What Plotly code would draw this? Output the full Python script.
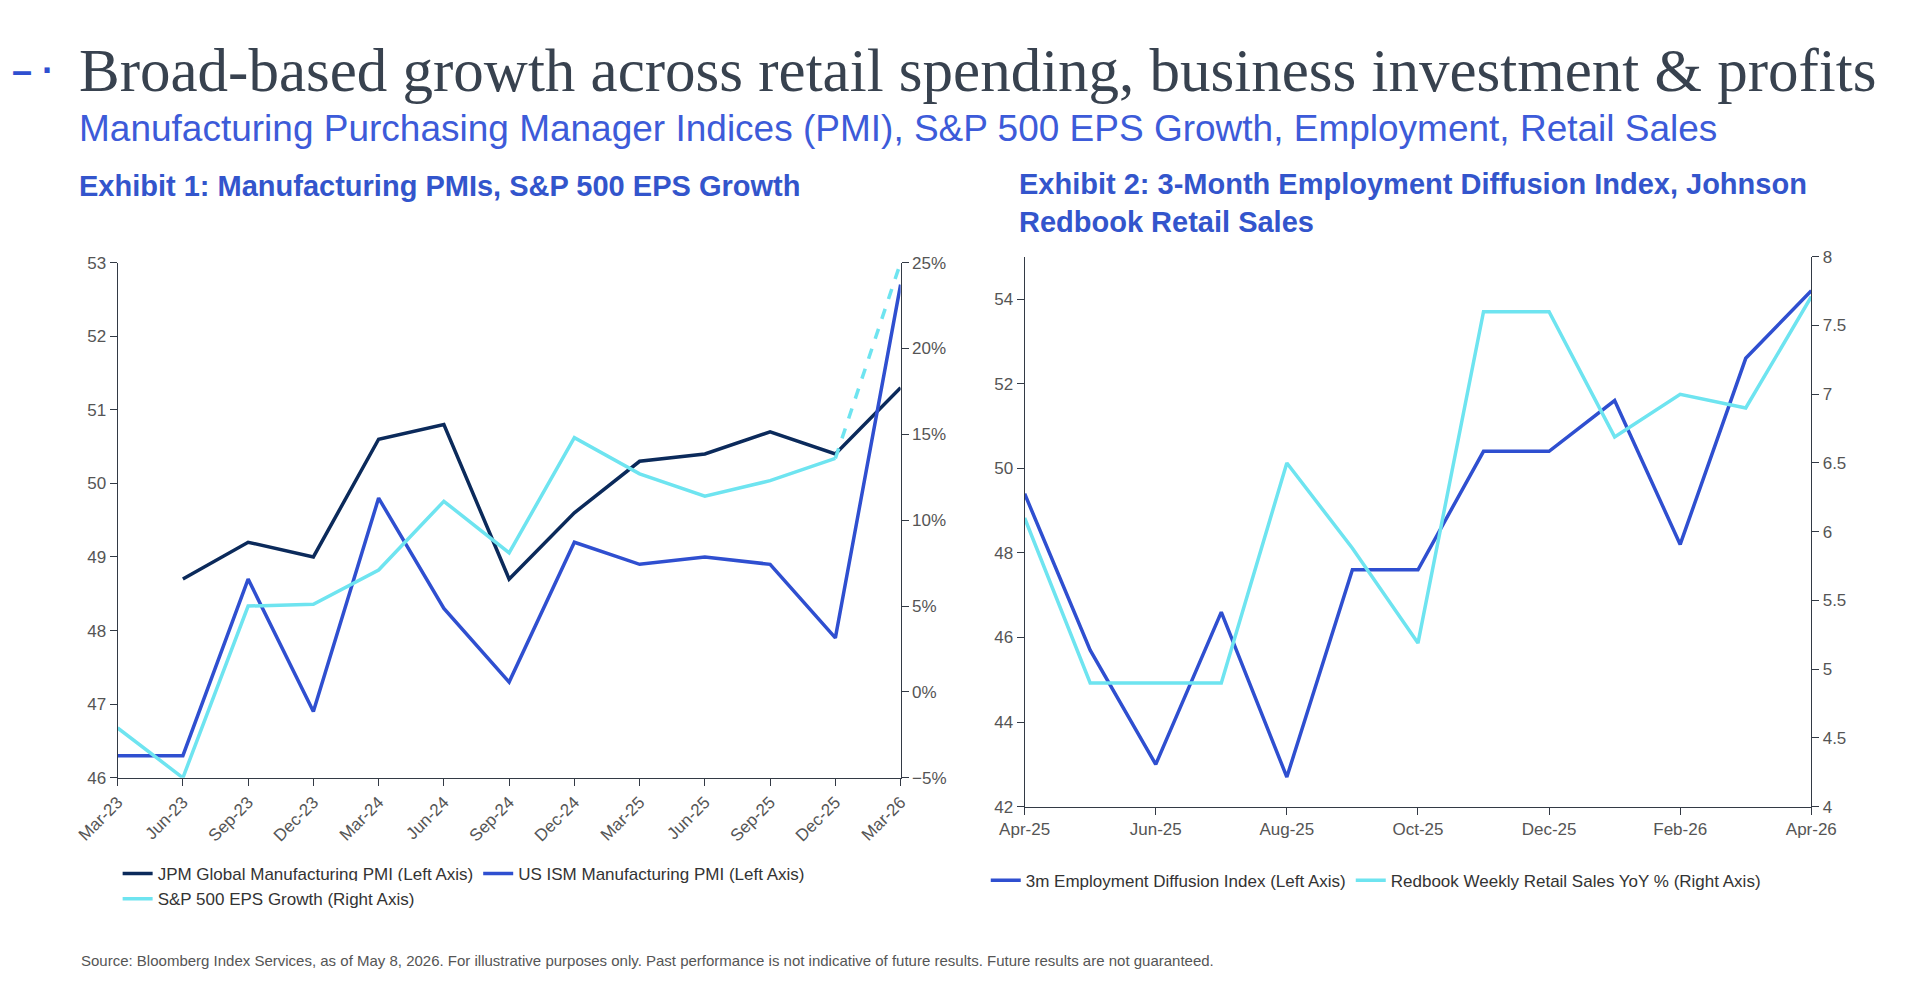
import plotly.graph_objects as go

# Exhibit 1 - quarterly
quarters = ['Mar-23', 'Jun-23', 'Sep-23', 'Dec-23', 'Mar-24', 'Jun-24', 'Sep-24',
            'Dec-24', 'Mar-25', 'Jun-25', 'Sep-25', 'Dec-25', 'Mar-26']
jpm_pmi = [None, 48.7, 49.2, 49.0, 50.6, 50.8, 48.7, 49.6, 50.3, 50.4, 50.7, 50.4, 51.3]
ism_pmi = [46.3, 46.3, 48.7, 46.9, 49.8, 48.3, 47.3, 49.2, 48.9, 49.0, 48.9, 47.9, 52.7]
eps_growth = [-2.1, -5.0, 5.0, 5.1, 7.1, 11.1, 8.1, 14.8, 12.7, 11.4, 12.3, 13.6, None]
eps_estimate = [None] * 11 + [13.6, 25.0]

# Exhibit 2 - monthly
months = ['Apr-25', 'May-25', 'Jun-25', 'Jul-25', 'Aug-25', 'Sep-25', 'Oct-25',
          'Nov-25', 'Dec-25', 'Jan-26', 'Feb-26', 'Mar-26', 'Apr-26']
employment = [49.4, 45.7, 43.0, 46.6, 42.7, 47.6, 47.6, 50.4, 50.4, 51.6, 48.2, 52.6, 54.2]
redbook = [6.1, 4.9, 4.9, 4.9, 6.5, 5.88, 5.19, 7.6, 7.6, 6.69, 7.0, 6.9, 7.71]

NAVY = '#0b2a5b'
BLUE = '#2f4fd0'
CYAN = '#6ee4f0'
GREY = '#555555'
LINE = 3.5
sans = 'Liberation Sans, Arial'
legend_font = dict(family=sans, size=17, color='#333')

fig = go.Figure()
fig.add_trace(go.Scatter(x=quarters, y=jpm_pmi, name='JPM Global Manufacturing PMI (Left Axis)',
                         mode='lines', line=dict(color=NAVY, width=LINE), legend='legend'))
fig.add_trace(go.Scatter(x=quarters, y=ism_pmi, name='US ISM Manufacturing PMI (Left Axis)',
                         mode='lines', line=dict(color=BLUE, width=LINE), legend='legend'))
fig.add_trace(go.Scatter(x=quarters, y=eps_growth, name='S&P 500 EPS Growth (Right Axis)',
                         mode='lines', line=dict(color=CYAN, width=LINE), yaxis='y2', legend='legend3'))
fig.add_trace(go.Scatter(x=quarters, y=eps_estimate, showlegend=False, mode='lines',
                         line=dict(color=CYAN, width=LINE, dash='dash'), yaxis='y2'))

fig.add_trace(go.Scatter(x=months, y=employment, name='3m Employment Diffusion Index (Left Axis)',
                         mode='lines', line=dict(color=BLUE, width=LINE),
                         xaxis='x2', yaxis='y3', legend='legend2'))
fig.add_trace(go.Scatter(x=months, y=redbook, name='Redbook Weekly Retail Sales YoY % (Right Axis)',
                         mode='lines', line=dict(color=CYAN, width=LINE),
                         xaxis='x2', yaxis='y4', legend='legend2'))

tickfont = dict(family=sans, size=17, color=GREY)
axis_common = dict(showgrid=False, zeroline=False, showline=True, linecolor='#333a45',
                   linewidth=1, ticks='outside', ticklen=7, tickcolor='#333a45', tickfont=tickfont)

fig.update_layout(
    width=1920, height=982,
    paper_bgcolor='white', plot_bgcolor='white',
    margin=dict(l=0, r=0, t=0, b=0),
    xaxis=dict(domain=[0.036, 0.459], type='category', range=[0, 12], tickangle=-45,
               anchor='y', **axis_common),
    yaxis=dict(domain=[0.210, 0.745], range=[46, 53], dtick=1, anchor='x', **axis_common),
    yaxis2=dict(range=[-5, 25], dtick=5, ticksuffix='%', overlaying='y', side='right',
                anchor='x', **axis_common),
    xaxis2=dict(domain=[0.526, 0.951], type='category', range=[0, 12],
                tickvals=months[::2], anchor='y3', **axis_common),
    yaxis3=dict(domain=[0.180, 0.751], range=[42, 55], tickvals=[42, 44, 46, 48, 50, 52, 54],
                anchor='x2', **axis_common),
    yaxis4=dict(range=[4, 8], dtick=0.5, overlaying='y3', side='right', anchor='x2',
                **axis_common),
    legend=dict(x=0.036, y=0.110, xanchor='left', yanchor='middle', orientation='h',
                font=legend_font, itemwidth=30),
    legend3=dict(x=0.036, y=0.084, xanchor='left', yanchor='middle', orientation='h',
                 font=legend_font, itemwidth=30),
    legend2=dict(x=0.505, y=0.103, xanchor='left', yanchor='middle', orientation='h',
                 font=legend_font, itemwidth=30),
)

title_font = 'Liberation Serif, DejaVu Serif, serif'
annotations = [
    dict(text='<b>– ·</b>', x=-0.022, y=0.944, font=dict(family=sans, size=36, color=BLUE)),
    dict(text='Broad-based growth across retail spending, business investment &amp; profits',
         x=0.014, y=0.944, font=dict(family=title_font, size=61, color='#38424f')),
    dict(text='Manufacturing Purchasing Manager Indices (PMI), S&amp;P 500 EPS Growth, Employment, Retail Sales',
         x=0.014, y=0.884, font=dict(family=sans, size=37, color='#3d5bd9')),
    dict(text='<b>Exhibit 1: Manufacturing PMIs, S&amp;P 500 EPS Growth</b>',
         x=0.014, y=0.825, font=dict(family=sans, size=29, color='#3355cc')),
    dict(text='<b>Exhibit 2: 3-Month Employment Diffusion Index, Johnson<br>Redbook Retail Sales</b>',
         x=0.522, y=0.845, font=dict(family=sans, size=29, color='#3355cc')),
    dict(text='Source: Bloomberg Index Services, as of May 8, 2026. For illustrative purposes only. '
              'Past performance is not indicative of future results. Future results are not guaranteed.',
         x=0.015, y=0.02, font=dict(family=sans, size=15, color='#555')),
]
for a in annotations:
    fig.add_annotation(xref='paper', yref='paper', xanchor='left', yanchor='middle',
                       showarrow=False, align='left', **a)
fig.layout.annotations[4].yanchor = 'top'

fig.write_html('out.html')
